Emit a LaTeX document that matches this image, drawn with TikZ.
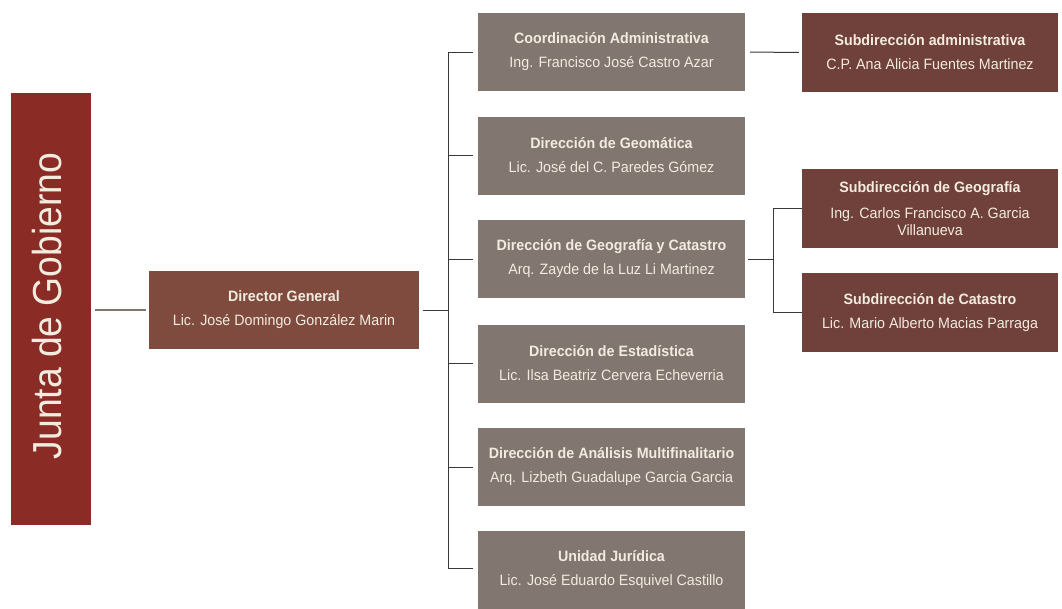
\documentclass[tikz,border=0pt]{standalone}
\usepackage{fontspec}
\setmainfont{Liberation Sans}[FakeStretch=0.95]
\newfontfamily\juntafont{Liberation Sans}[FakeStretch=0.92]
\definecolor{juntared}{HTML}{8A2C25}
\definecolor{dirbrown}{HTML}{7F4B3F}
\definecolor{boxgray}{HTML}{817670}
\definecolor{subbrown}{HTML}{70403A}
\definecolor{txtcream}{HTML}{F2ECDF}
\definecolor{linegray}{HTML}{3A3836}
\definecolor{juntaline}{HTML}{857468}
\tikzset{
  orgbox/.style={rectangle, inner sep=2pt, align=center, text=txtcream,
    font=\fontsize{15}{17}\selectfont},
  graybox/.style={orgbox, fill=boxgray, minimum width=267pt, minimum height=78pt},
  subbox/.style={orgbox, fill=subbrown, minimum width=256pt, minimum height=79pt},
  dirbox/.style={orgbox, fill=dirbrown, minimum width=270pt, minimum height=78pt},
  conn/.style={draw=linegray, line width=1pt},
}
\begin{document}
\begin{tikzpicture}[x=1pt,y=-1pt]
\useasboundingbox (0,0) rectangle (1062,608);
% Junta de Gobierno
\node[fill=juntared, minimum width=80pt, minimum height=432pt, inner sep=0pt] (junta) at (51,309) {};
\node[rotate=90, text=txtcream, font=\juntafont\fontsize{40.5}{44}\selectfont, inner sep=0pt] (juntatxt) at (47,306) {Junta de Gobierno};
% Director
\node[dirbox] (dg) at (284,310) {\textbf{Director General}\\[7pt]Lic. José Domingo González Marin};
% Gray column
\node[graybox] (b1) at (611.5,52) {\textbf{Coordinación Administrativa}\\[7pt]Ing. Francisco José Castro Azar};
\node[graybox] (b2) at (611.5,155.5) {\textbf{Dirección de Geomática}\\[7pt]Lic. José del C. Paredes Gómez};
\node[graybox] (b3) at (611.5,259) {\textbf{Dirección de Geografía y Catastro}\\[7pt]Arq. Zayde de la Luz Li Martinez};
\node[graybox] (b4) at (611.5,363.5) {\textbf{Dirección de Estadística}\\[7pt]Lic. Ilsa Beatriz Cervera Echeverria};
\node[graybox] (b5) at (611.5,467) {\textbf{Dirección de Análisis Multifinalitario}\\[7pt]Arq. Lizbeth Guadalupe Garcia Garcia};
\node[graybox] (b6) at (611.5,570) {\textbf{Unidad Jurídica}\\[7pt]Lic. José Eduardo Esquivel Castillo};
% Sub boxes
\node[subbox] (sa) at (930,52.5) {\textbf{Subdirección administrativa}\\[7pt]C.P. Ana Alicia Fuentes Martinez};
\node[subbox] (sg) at (930,208.5) {\textbf{Subdirección de Geografía}\\[9pt]Ing. Carlos Francisco A. Garcia\\Villanueva};
\node[subbox] (sc) at (930,312.5) {\textbf{Subdirección de Catastro}\\[7pt]Lic. Mario Alberto Macias Parraga};
% Connectors
\coordinate (bus) at (448,310);
\coordinate (j2) at (773,259);
\draw[draw=juntaline, line width=1.6pt, shorten <=4pt, shorten >=3pt] (junta.east |- dg.west) -- (dg.west);
\draw[conn, shorten <=4pt] (dg.east) -- (bus);
\draw[conn, shorten >=5pt] (b1.west -| bus) -- (b1.west);
\draw[conn] (b1.west -| bus) -- ([yshift=2pt]b6.west -| bus);
\draw[conn, shorten >=5pt] ([yshift=2pt]b6.west -| bus) -- ([yshift=2pt]b6.west);
\foreach \b in {b2,b3,b4,b5} {
  \draw[conn, shorten >=5pt] (\b.west -| bus) -- (\b.west);
}
\draw[conn, shorten <=5pt, shorten >=3pt] (b1.east) -- (sa.west);
\draw[conn, shorten <=3pt] (b3.east) -- (j2);
\draw[conn] (sg.west -| j2) -- (sc.west -| j2);
\draw[conn] (sg.west -| j2) -- (sg.west);
\draw[conn] (sc.west -| j2) -- (sc.west);
\end{tikzpicture}
\end{document}
